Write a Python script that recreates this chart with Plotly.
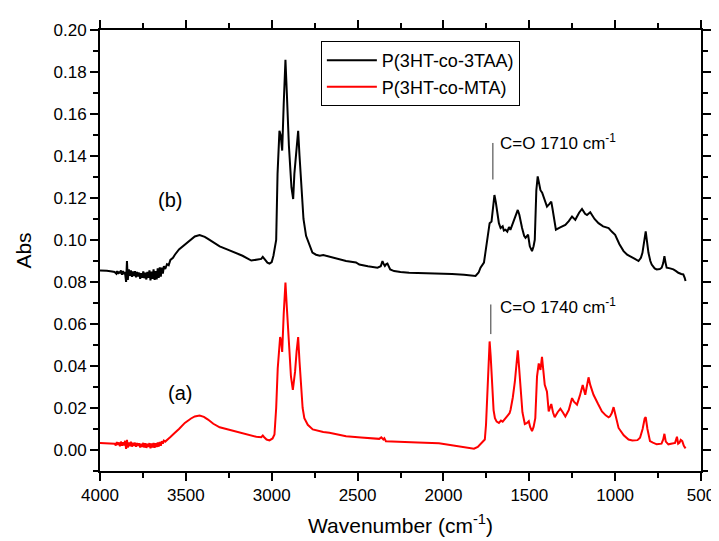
import plotly.graph_objects as go

# Series (b): P(3HT-co-3TAA)
wn_b = [4000, 3990, 3960, 3930, 3915, 3905, 3900, 3895, 3890, 3885, 3878, 3872, 3866, 3860, 3855,
        3848, 3843, 3838, 3832, 3826, 3820, 3814, 3808, 3802, 3796, 3790, 3784, 3778, 3772, 3766,
        3760, 3754, 3748, 3742, 3736, 3730, 3724, 3718, 3712, 3706, 3700, 3694, 3688, 3682, 3676,
        3670, 3664, 3658, 3652, 3646, 3640, 3634, 3628, 3620, 3610, 3600, 3590, 3575, 3564, 3540,
        3506, 3470, 3448, 3420, 3390, 3371, 3340, 3303, 3260, 3216, 3170, 3119, 3080, 3061, 3052,
        3040, 3025, 3013, 3000, 2990, 2980, 2974, 2966, 2955, 2948, 2939, 2930, 2920, 2912, 2900,
        2885, 2875, 2868, 2858, 2846, 2838, 2829, 2815, 2800, 2780, 2763, 2742, 2720, 2700, 2684,
        2664, 2620, 2567, 2509, 2490, 2440, 2384, 2365, 2355, 2348, 2341, 2333, 2326, 2310, 2287,
        2250, 2200, 2100, 2026, 1950, 1880, 1813, 1795, 1784, 1764, 1755, 1745, 1738, 1731, 1720,
        1712, 1703, 1695, 1687, 1677, 1667, 1655, 1648, 1638, 1628, 1618, 1610, 1602, 1590, 1575,
        1567, 1558, 1550, 1542, 1530, 1522, 1507, 1497, 1484, 1475, 1468, 1459, 1451, 1443, 1435,
        1425, 1416, 1405, 1397, 1385, 1372, 1365, 1358, 1345, 1320, 1290, 1270, 1251, 1232, 1210,
        1193, 1175, 1164, 1145, 1120, 1097, 1070, 1038, 1020, 1000, 975, 951, 930, 912, 885,
        864, 850, 841, 830, 822, 814, 806, 795, 787, 770, 758, 740, 729, 720, 713,
        706, 700, 680, 661, 645, 632, 615, 603, 595, 590]
abs_b = [0.0855, 0.0855, 0.0853, 0.0850, 0.0848, 0.0840, 0.0852, 0.0838, 0.0850, 0.0842, 0.0855, 0.0835, 0.0852, 0.0838, 0.0848,
         0.0800, 0.0900, 0.0810, 0.0860, 0.0830, 0.0855, 0.0825, 0.0850, 0.0828, 0.0852, 0.0822, 0.0848, 0.0826, 0.0845, 0.0815,
         0.0842, 0.0820, 0.0850, 0.0818, 0.0845, 0.0812, 0.0848, 0.0820, 0.0855, 0.0808, 0.0850, 0.0815, 0.0860, 0.0810, 0.0852,
         0.0812, 0.0865, 0.0820, 0.0870, 0.0825, 0.0868, 0.0840, 0.0875, 0.0862, 0.0885, 0.0880, 0.0905, 0.0915, 0.0930, 0.0955,
         0.0978, 0.1005, 0.1017, 0.1024, 0.1015, 0.1005, 0.0990, 0.0970, 0.0955, 0.0942, 0.0925, 0.0902, 0.0905, 0.0910, 0.0920,
         0.0905, 0.0892, 0.0888, 0.0895, 0.0925, 0.0980, 0.1000, 0.1316, 0.1520, 0.1500, 0.1426, 0.1650, 0.1858, 0.1700, 0.1450,
         0.1250, 0.1195, 0.1316, 0.1400, 0.1520, 0.1400, 0.1270, 0.1100, 0.1020, 0.0975, 0.0940, 0.0930, 0.0925, 0.0928, 0.0925,
         0.0920, 0.0910, 0.0900, 0.0893, 0.0883, 0.0875, 0.0868, 0.0875, 0.0900, 0.0885, 0.0876, 0.0885, 0.0888, 0.0860, 0.0852,
         0.0848, 0.0844, 0.0842, 0.0841, 0.0838, 0.0834, 0.0829, 0.0845, 0.0868, 0.0892, 0.0950, 0.1017, 0.1060, 0.1080, 0.1088,
         0.1150, 0.1214, 0.1180, 0.1127, 0.1080, 0.1057, 0.1065, 0.1045, 0.1049, 0.1040, 0.1062, 0.1048, 0.1066, 0.1100, 0.1130,
         0.1143, 0.1120, 0.1080, 0.1057, 0.1020, 0.1010, 0.1025, 0.0970, 0.0947, 0.0970, 0.1001, 0.1237, 0.1303, 0.1260, 0.1237,
         0.1225, 0.1206, 0.1180, 0.1159, 0.1170, 0.1183, 0.1150, 0.1112, 0.1049, 0.1060, 0.1072, 0.1090, 0.1112, 0.1096, 0.1130,
         0.1148, 0.1125, 0.1119, 0.1132, 0.1100, 0.1080, 0.1065, 0.1057, 0.1040, 0.1025, 0.0980, 0.0947, 0.0930, 0.0923, 0.0910,
         0.0900, 0.0915, 0.0939, 0.1000, 0.1041, 0.0990, 0.0939, 0.0900, 0.0883, 0.0865, 0.0860, 0.0862, 0.0868, 0.0890, 0.0923,
         0.0890, 0.0868, 0.0865, 0.0860, 0.0852, 0.0844, 0.0838, 0.0836, 0.0820, 0.0805]

# Series (a): P(3HT-co-MTA)
wn_a = [4000, 3960, 3930, 3915, 3908, 3902, 3896, 3890, 3884, 3878, 3872, 3866, 3860, 3854,
        3848, 3843, 3838, 3832, 3826, 3820, 3814, 3808, 3802, 3796, 3790, 3784, 3778, 3772, 3766,
        3760, 3754, 3748, 3742, 3736, 3730, 3724, 3718, 3712, 3706, 3700, 3694, 3688, 3682, 3676,
        3670, 3664, 3658, 3652, 3646, 3640, 3634, 3628, 3620, 3610, 3600, 3590, 3575, 3564, 3540,
        3506, 3470, 3448, 3420, 3395, 3371, 3340, 3303, 3260, 3216, 3170, 3129, 3090, 3061, 3052,
        3045, 3030, 3013, 2995, 2984, 2974, 2965, 2951, 2945, 2939, 2930, 2920, 2912, 2901, 2888,
        2877, 2870, 2864, 2855, 2846, 2838, 2829, 2820, 2810, 2790, 2761, 2720, 2700, 2664, 2620,
        2567, 2480, 2374, 2362, 2350, 2344, 2335, 2300, 2240, 2150, 2026, 1950, 1880, 1822, 1800,
        1784, 1765, 1759, 1752, 1745, 1738, 1731, 1725, 1716, 1708, 1700, 1690, 1677, 1665, 1655,
        1645, 1638, 1625, 1615, 1609, 1596, 1584, 1575, 1567, 1560, 1551, 1540, 1526, 1515, 1503,
        1495, 1484, 1475, 1465, 1455, 1445, 1435, 1426, 1418, 1410, 1397, 1387, 1380, 1372, 1362,
        1352, 1335, 1319, 1305, 1290, 1270, 1251, 1240, 1222, 1205, 1189, 1174, 1165, 1155, 1145,
        1126, 1100, 1077, 1055, 1038, 1030, 1020, 1009, 995, 980, 950, 922, 900, 884, 870,
        855, 840, 828, 822, 812, 797, 780, 758, 730, 720, 713, 705, 690, 670, 651,
        645, 640, 633, 625, 618, 609, 600, 590]
abs_a = [0.0033, 0.0033, 0.0031, 0.0030, 0.0022, 0.0038, 0.0024, 0.0036, 0.0018, 0.0040, 0.0020, 0.0037, 0.0022, 0.0044,
         0.0005, 0.0048, 0.0012, 0.0036, 0.0018, 0.0040, 0.0016, 0.0034, 0.0020, 0.0035, 0.0015, 0.0033, 0.0020, 0.0032, 0.0012,
         0.0030, 0.0014, 0.0034, 0.0012, 0.0032, 0.0010, 0.0030, 0.0014, 0.0033, 0.0008, 0.0031, 0.0012, 0.0034, 0.0010, 0.0032,
         0.0014, 0.0036, 0.0016, 0.0038, 0.0020, 0.0042, 0.0030, 0.0045, 0.0040, 0.0050, 0.0055, 0.0062, 0.0072, 0.0082, 0.0100,
         0.0129, 0.0150, 0.0160, 0.0164, 0.0158, 0.0145, 0.0125, 0.0108, 0.0099, 0.0090, 0.0080, 0.0069, 0.0063, 0.0061, 0.0069,
         0.0062, 0.0050, 0.0046, 0.0055, 0.0074, 0.0200, 0.0388, 0.0538, 0.0520, 0.0467, 0.0650, 0.0797, 0.0680, 0.0514, 0.0350,
         0.0286, 0.0330, 0.0373, 0.0470, 0.0538, 0.0420, 0.0278, 0.0200, 0.0152, 0.0120, 0.0098, 0.0088, 0.0086, 0.0082, 0.0075,
         0.0066, 0.0060, 0.0053, 0.0060, 0.0050, 0.0056, 0.0042, 0.0041, 0.0038, 0.0036, 0.0032, 0.0022, 0.0014, 0.0006, 0.0015,
         0.0027, 0.0042, 0.0050, 0.0120, 0.0247, 0.0420, 0.0517, 0.0450, 0.0278, 0.0190, 0.0152, 0.0135, 0.0129, 0.0140, 0.0135,
         0.0148, 0.0152, 0.0165, 0.0175, 0.0192, 0.0250, 0.0325, 0.0420, 0.0475, 0.0400, 0.0278, 0.0180, 0.0124, 0.0128, 0.0137,
         0.0110, 0.0090, 0.0110, 0.0152, 0.0349, 0.0412, 0.0381, 0.0443, 0.0370, 0.0310, 0.0278, 0.0184, 0.0200, 0.0219, 0.0180,
         0.0156, 0.0180, 0.0197, 0.0180, 0.0160, 0.0190, 0.0247, 0.0230, 0.0216, 0.0260, 0.0310, 0.0263, 0.0310, 0.0346, 0.0310,
         0.0263, 0.0220, 0.0184, 0.0165, 0.0156, 0.0160, 0.0175, 0.0204, 0.0160, 0.0105, 0.0070, 0.0050, 0.0045, 0.0046, 0.0047,
         0.0058, 0.0100, 0.0150, 0.0156, 0.0100, 0.0042, 0.0035, 0.0027, 0.0030, 0.0050, 0.0077, 0.0040, 0.0027, 0.0030, 0.0034,
         0.0050, 0.0063, 0.0030, 0.0035, 0.0048, 0.0042, 0.0020, 0.0008]

names = ["P(3HT-co-3TAA)", "P(3HT-co-MTA)"]
colors = ["#000000", "#ff0000"]

x_tickvals = [4000, 3500, 3000, 2500, 2000, 1500, 1000, 500]
y_tickvals = [0.00, 0.02, 0.04, 0.06, 0.08, 0.10, 0.12, 0.14, 0.16, 0.18, 0.20]

font_family = "Liberation Sans, Arial, sans-serif"

fig = go.Figure()
fig.add_trace(go.Scatter(x=wn_b, y=abs_b, mode="lines", name=names[0],
                         line=dict(color=colors[0], width=2)))
fig.add_trace(go.Scatter(x=wn_a, y=abs_a, mode="lines", name=names[1],
                         line=dict(color=colors[1], width=2)))

axis_common = dict(showline=True, linewidth=2, linecolor="black", mirror="ticks",
                   ticks="outside", ticklen=8, tickwidth=2, tickcolor="black",
                   showgrid=False, zeroline=False,
                   tickfont=dict(family=font_family, size=17, color="black"))

fig.update_xaxes(range=[4000, 500], tickvals=x_tickvals,
                 minor=dict(dtick=250, ticklen=5, tickwidth=2, tickcolor="black", ticks="outside"),
                 title=dict(text="Wavenumber (cm<sup>-1</sup>)",
                            font=dict(family=font_family, size=21, color="black"), standoff=14),
                 **axis_common)
fig.update_yaxes(range=[-0.01, 0.20], tickvals=y_tickvals, tickformat=".2f",
                 minor=dict(dtick=0.01, tick0=0, ticklen=5, tickwidth=2, tickcolor="black", ticks="outside"),
                 title=dict(text="Abs", font=dict(family=font_family, size=21, color="black"), standoff=16),
                 **axis_common)

fig.add_annotation(x=3594, y=0.119, text="(b)", showarrow=False,
                   font=dict(family=font_family, size=20, color="black"))
fig.add_annotation(x=3535, y=0.027, text="(a)", showarrow=False,
                   font=dict(family=font_family, size=20, color="black"))
fig.add_annotation(x=1680, y=0.1465, text="C=O 1710 cm<sup>-1</sup>", showarrow=False,
                   xanchor="left", font=dict(family=font_family, size=17, color="black"))
fig.add_annotation(x=1680, y=0.0685, text="C=O 1740 cm<sup>-1</sup>", showarrow=False,
                   xanchor="left", font=dict(family=font_family, size=17, color="black"))
fig.add_shape(type="line", x0=1712, x1=1712, y0=0.1288, y1=0.1462,
              line=dict(color="#333333", width=1))
fig.add_shape(type="line", x0=1724, x1=1724, y0=0.0552, y1=0.0693,
              line=dict(color="#333333", width=1))

fig.update_layout(
    width=719, height=541,
    margin=dict(l=92, r=20, t=12, b=78),
    paper_bgcolor="white", plot_bgcolor="white",
    font=dict(family=font_family, color="black"),
    showlegend=True,
    legend=dict(x=0.3675, y=0.975, xanchor="left", yanchor="top",
                bgcolor="white", bordercolor="black", borderwidth=1,
                font=dict(family=font_family, size=18, color="black"),
                tracegroupgap=0, itemwidth=50),
)

fig.write_html("out.html")
